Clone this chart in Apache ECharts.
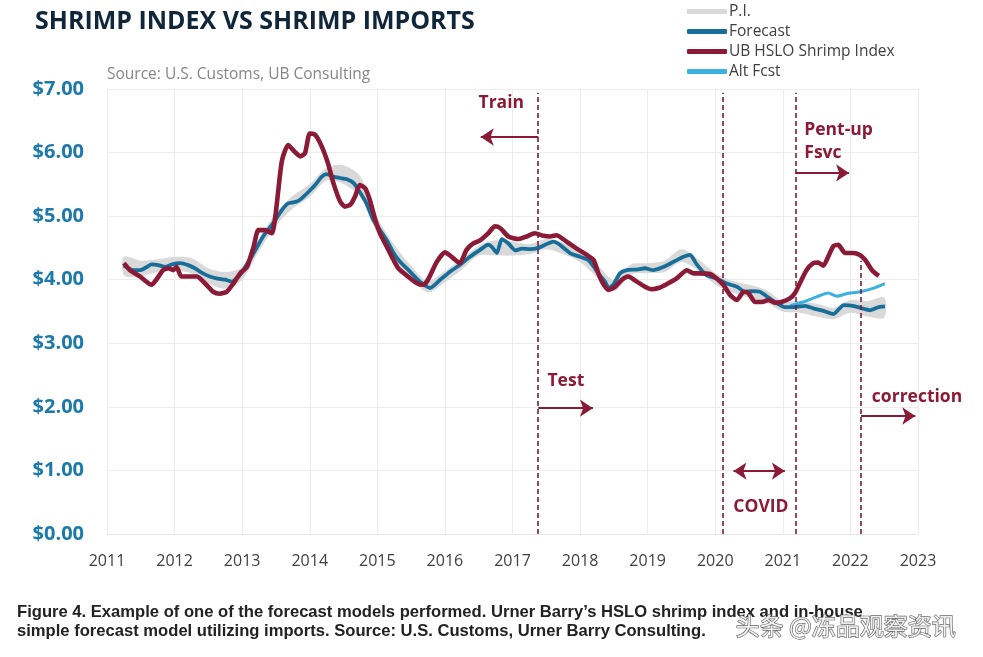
<!DOCTYPE html>
<html><head><meta charset="utf-8">
<script src="https://cdn.jsdelivr.net/npm/echarts@6/dist/echarts.min.js"></script>
<style>html,body{margin:0;padding:0;background:#fff}#c{width:983px;height:657px}</style>
</head><body><div id="c"></div>
<script>
// ---- data (years as decimal, USD) ----
const yearTicks = [2011,2012,2013,2014,2015,2016,2017,2018,2019,2020,2021,2022,2023];

const indexX = [2011.25,2011.34,2011.49,2011.66,2011.73,2011.83,2011.91,2011.98,2012.03,2012.10,2012.23,2012.33,2012.47,2012.57,2012.67,2012.77,2012.87,2012.97,2013.07,2013.17,2013.24,2013.34,2013.44,2013.49,2013.54,2013.59,2013.68,2013.78,2013.86,2013.93,2014.00,2014.08,2014.18,2014.27,2014.35,2014.45,2014.52,2014.60,2014.67,2014.74,2014.82,2014.89,2014.97,2015.04,2015.14,2015.24,2015.31,2015.43,2015.58,2015.68,2015.75,2015.88,2016.00,2016.10,2016.22,2016.32,2016.42,2016.52,2016.64,2016.74,2016.82,2016.94,2017.09,2017.21,2017.33,2017.46,2017.56,2017.65,2017.80,2017.95,2018.10,2018.20,2018.27,2018.34,2018.42,2018.52,2018.62,2018.71,2018.84,2018.96,2019.06,2019.16,2019.28,2019.43,2019.58,2019.68,2019.77,2019.92,2020.02,2020.12,2020.22,2020.32,2020.42,2020.49,2020.59,2020.69,2020.79,2020.88,2020.98,2021.11,2021.18,2021.25,2021.35,2021.45,2021.52,2021.60,2021.67,2021.75,2021.82,2021.92,2022.04,2022.14,2022.22,2022.32,2022.42];
const indexY = [4.26,4.15,4.05,3.92,4.00,4.15,4.18,4.15,4.20,4.05,4.05,4.05,3.92,3.81,3.78,3.81,3.94,4.10,4.20,4.52,4.78,4.78,4.73,4.99,5.46,5.88,6.12,6.01,5.94,5.99,6.30,6.28,6.09,5.83,5.52,5.23,5.15,5.18,5.31,5.49,5.44,5.25,4.94,4.73,4.52,4.31,4.18,4.07,3.95,3.92,4.00,4.28,4.43,4.36,4.26,4.47,4.57,4.62,4.73,4.84,4.81,4.68,4.64,4.68,4.73,4.69,4.68,4.70,4.60,4.49,4.39,4.31,4.10,3.94,3.84,3.89,4.00,4.05,3.97,3.89,3.85,3.87,3.93,4.02,4.15,4.10,4.10,4.09,4.02,3.92,3.76,3.68,3.81,3.79,3.65,3.65,3.68,3.64,3.65,3.71,3.79,3.94,4.15,4.26,4.27,4.22,4.36,4.53,4.55,4.42,4.42,4.39,4.31,4.15,4.06];

const fcstX = [2011.25,2011.39,2011.49,2011.59,2011.66,2011.76,2011.86,2011.96,2012.08,2012.20,2012.30,2012.42,2012.52,2012.62,2012.75,2012.85,2012.97,2013.17,2013.31,2013.46,2013.59,2013.68,2013.81,2013.88,2013.98,2014.08,2014.18,2014.25,2014.35,2014.45,2014.55,2014.65,2014.74,2014.84,2014.94,2015.04,2015.14,2015.24,2015.33,2015.48,2015.63,2015.78,2015.93,2016.08,2016.22,2016.37,2016.52,2016.64,2016.69,2016.77,2016.84,2016.94,2017.04,2017.14,2017.26,2017.38,2017.61,2017.70,2017.85,2018.00,2018.12,2018.22,2018.29,2018.37,2018.42,2018.49,2018.59,2018.69,2018.84,2018.96,2019.08,2019.23,2019.38,2019.53,2019.63,2019.72,2019.87,2020.02,2020.17,2020.32,2020.44,2020.54,2020.66,2020.76,2020.88,2021.03,2021.18,2021.33,2021.45,2021.60,2021.75,2021.90,2022.04,2022.17,2022.29,2022.42,2022.51];
const fcstY = [4.22,4.15,4.15,4.20,4.24,4.23,4.20,4.24,4.26,4.23,4.18,4.10,4.05,4.02,4.00,3.97,4.08,4.42,4.68,4.89,5.10,5.20,5.23,5.28,5.38,5.49,5.62,5.66,5.62,5.60,5.58,5.52,5.38,5.20,4.94,4.78,4.62,4.42,4.29,4.13,3.97,3.87,4.00,4.13,4.23,4.36,4.47,4.55,4.52,4.42,4.64,4.57,4.46,4.49,4.48,4.50,4.60,4.55,4.42,4.36,4.31,4.18,4.07,3.97,3.87,3.92,4.10,4.15,4.16,4.18,4.15,4.20,4.28,4.36,4.39,4.25,4.07,4.02,3.94,3.89,3.81,3.82,3.81,3.74,3.65,3.57,3.57,3.59,3.55,3.51,3.46,3.60,3.59,3.55,3.52,3.57,3.58];

const altX = [2021.11,2021.30,2021.50,2021.67,2021.80,2021.94,2022.14,2022.32,2022.51];
const altY = [3.59,3.65,3.73,3.79,3.74,3.78,3.81,3.86,3.94];

const piX    = [2011.25,2011.5,2011.75,2012.0,2012.25,2012.5,2012.75,2013.0,2013.25,2013.5,2013.75,2014.0,2014.25,2014.5,2014.75,2015.0,2015.25,2015.5,2015.75,2016.0,2016.25,2016.5,2016.75,2017.0,2017.25,2017.5,2017.75,2018.0,2018.25,2018.5,2018.75,2019.0,2019.25,2019.5,2019.75,2020.0,2020.25,2020.5,2020.75,2021.0,2021.25,2021.5,2021.75,2022.0,2022.25,2022.5];
const piLow  = [4.07,4.05,4.12,4.14,4.10,3.94,3.86,4.00,4.45,4.85,5.12,5.30,5.56,5.50,5.30,4.72,4.32,4.02,3.80,3.96,4.16,4.38,4.38,4.38,4.40,4.48,4.40,4.28,4.04,3.82,4.08,4.10,4.12,4.28,4.14,3.92,3.80,3.72,3.64,3.50,3.48,3.42,3.38,3.48,3.42,3.40];
const piHigh = [4.36,4.30,4.32,4.36,4.34,4.18,4.12,4.20,4.65,5.05,5.32,5.50,5.76,5.80,5.62,4.98,4.55,4.22,3.98,4.14,4.32,4.54,4.62,4.60,4.56,4.64,4.58,4.44,4.24,4.00,4.24,4.26,4.30,4.48,4.32,4.10,3.98,3.92,3.84,3.66,3.66,3.62,3.56,3.68,3.66,3.72];

// phase boundaries (year) and annotation texts
const phaseLines = [2017.38, 2020.105, 2021.19, 2022.157];
const annotNames = ['Train','Test','Pent-up','Fsvc','COVID','correction'];
const annotX = [2016.49, 2017.51, 2021.31, 2021.31, 2020.26, 2022.31];
const annotY = [6.78, 2.41, 6.36, 5.99, 0.42, 2.16];

// ---- chart ----
const RED = '#8b1a37', BLUE = '#176e99', LBLUE = '#3cb0e0', GRAY = '#d9d9d9';
const zip = (xs, ys) => xs.map((x, i) => [x, ys[i]]);
const chart = echarts.init(document.getElementById('c'), null, {renderer: 'canvas'});
const dashStyle = {color: '#7a1f3a', width: 1.6, type: [5, 3], opacity: 1};
const arrowStyle = {color: RED, width: 2, type: 'solid', opacity: 1};

const option = {
  animation: false,
  backgroundColor: '#fff',
  grid: {left: 107, right: 65, top: 89, bottom: 123, containLabel: false},
  legend: {
    data: [{name: 'P.I.', icon: 'rect'}, 'Forecast', 'UB HSLO Shrimp Index', 'Alt Fcst'],
    orient: 'vertical', left: 682, top: -2,
    itemWidth: 40, itemHeight: 5, itemGap: 3, icon: 'roundRect',
    textStyle: {fontFamily: 'Open Sans', fontSize: 15.5, color: '#404040', lineHeight: 17, padding: [0, 0, 0, -3]},
    selectedMode: false
  },
  xAxis: {
    type: 'value', min: 2011, max: 2023, interval: 1,
    axisLine: {show: true, lineStyle: {color: '#e8e8e8'}},
    axisTick: {show: false},
    splitLine: {show: true, lineStyle: {color: '#ececec', width: 1}},
    axisLabel: {formatter: v => String(v), margin: 19, fontFamily: 'Open Sans', fontSize: 16, color: '#404040'}
  },
  yAxis: {
    type: 'value', min: 0, max: 7, interval: 1,
    axisLine: {show: false}, axisTick: {show: false},
    splitLine: {show: true, lineStyle: {color: '#ececec', width: 1}},
    axisLabel: {formatter: v => '$' + v.toFixed(2), margin: 23, fontFamily: 'Open Sans', fontWeight: 'bold', fontSize: 20, color: '#1c7aab'}
  },
  graphic: [
    {type: 'text', left: 35, top: 9, style: {text: 'SHRIMP INDEX VS SHRIMP IMPORTS', font: 'bold 25px "Open Sans"', fill: '#10263a'}},
    {type: 'text', left: 107, top: 67, style: {text: 'Source: U.S. Customs, UB Consulting', font: '15.5px "Open Sans"', fill: '#858585'}},
    {type: 'text', left: 17, top: 604, style: {text: "Figure 4. Example of one of the forecast models performed. Urner Barry\u2019s HSLO shrimp index and in-house", font: 'bold 16.6px "Liberation Sans"', fill: '#222'}},
    {type: 'text', left: 17, top: 623, style: {text: 'simple forecast model utilizing imports. Source: U.S. Customs, Urner Barry Consulting.', font: 'bold 16.6px "Liberation Sans"', fill: '#222'}},
    {type: 'text', left: 735, top: 613, z: 100, style: {text: '\u5934\u6761 @\u51bb\u54c1\u89c2\u5bdf\u8d44\u8baf', font: '24px "Noto Sans CJK SC"', fill: 'rgba(255,255,255,0.85)', stroke: '#6a6a6a', lineWidth: 1.3}}
  ],
  series: [
    {
      name: 'P.I.', type: 'custom', z: 1,
      itemStyle: {color: GRAY},
      data: piX.map((x, i) => [x, piLow[i], piHigh[i]]),
      encode: {x: 0, y: [1, 2]},
      renderItem: function (params, api) {
        if (params.dataIndex !== 0) return null;
        const pts = [];
        for (let i = 0; i < piX.length; i++) pts.push(api.coord([piX[i], piHigh[i]]));
        for (let i = piX.length - 1; i >= 0; i--) pts.push(api.coord([piX[i], piLow[i]]));
        return {type: 'polygon', shape: {points: pts, smooth: 0.3}, style: {fill: GRAY}};
      }
    },
    {
      name: 'Alt Fcst', type: 'line', z: 3, data: zip(altX, altY),
      showSymbol: false, symbol: 'none', smooth: 0.2,
      lineStyle: {color: LBLUE, width: 3}, itemStyle: {color: LBLUE}
    },
    {
      name: 'Forecast', type: 'line', z: 4, data: zip(fcstX, fcstY),
      showSymbol: false, symbol: 'none', smooth: 0.2,
      lineStyle: {color: BLUE, width: 3.8, join: 'round'}, itemStyle: {color: BLUE}
    },
    {
      name: 'UB HSLO Shrimp Index', type: 'line', z: 5, data: zip(indexX, indexY),
      showSymbol: false, symbol: 'none', smooth: 0.2,
      lineStyle: {color: RED, width: 4.6, join: 'round'}, itemStyle: {color: RED}
    },
    {
      name: 'annot', type: 'scatter', z: 6, silent: true,
      symbolSize: 1, itemStyle: {color: 'rgba(0,0,0,0)', opacity: 1},
      data: annotNames.map((n, i) => ({name: n, value: [annotX[i], annotY[i]]})),
      label: {show: true, position: 'right', distance: 0, formatter: p => p.name, opacity: 1,
              fontFamily: 'Open Sans', fontWeight: 'bold', fontSize: 17.5, color: RED},
      markLine: {
        silent: true, animation: false, label: {show: false},
        symbol: ['none', 'none'],
        data: [
          [{coord: [phaseLines[0], 0], lineStyle: dashStyle}, {coord: [phaseLines[0], 6.94]}],
          [{coord: [phaseLines[1], 0], lineStyle: dashStyle}, {coord: [phaseLines[1], 6.94]}],
          [{coord: [phaseLines[2], 0], lineStyle: dashStyle}, {coord: [phaseLines[2], 6.94]}],
          [{coord: [phaseLines[3], 0], lineStyle: dashStyle}, {coord: [phaseLines[3], 4.3]}],
          [{coord: [phaseLines[0], 6.245], lineStyle: arrowStyle, symbol: 'none'}, {coord: [2016.53, 6.245], symbol: 'arrow', symbolSize: 13}],
          [{coord: [phaseLines[0], 1.98], lineStyle: arrowStyle, symbol: 'none'}, {coord: [2018.19, 1.98], symbol: 'arrow', symbolSize: 13}],
          [{coord: [phaseLines[2], 5.68], lineStyle: arrowStyle, symbol: 'none'}, {coord: [2021.98, 5.68], symbol: 'arrow', symbolSize: 13}],
          [{coord: [2020.27, 0.99], lineStyle: arrowStyle, symbol: 'arrow', symbolSize: 13}, {coord: [2021.03, 0.99], symbol: 'arrow', symbolSize: 13}],
          [{coord: [phaseLines[3], 1.856], lineStyle: arrowStyle, symbol: 'none'}, {coord: [2022.96, 1.856], symbol: 'arrow', symbolSize: 13}]
        ]
      }
    }
  ]
};
chart.setOption(option);
</script>
</body></html>
